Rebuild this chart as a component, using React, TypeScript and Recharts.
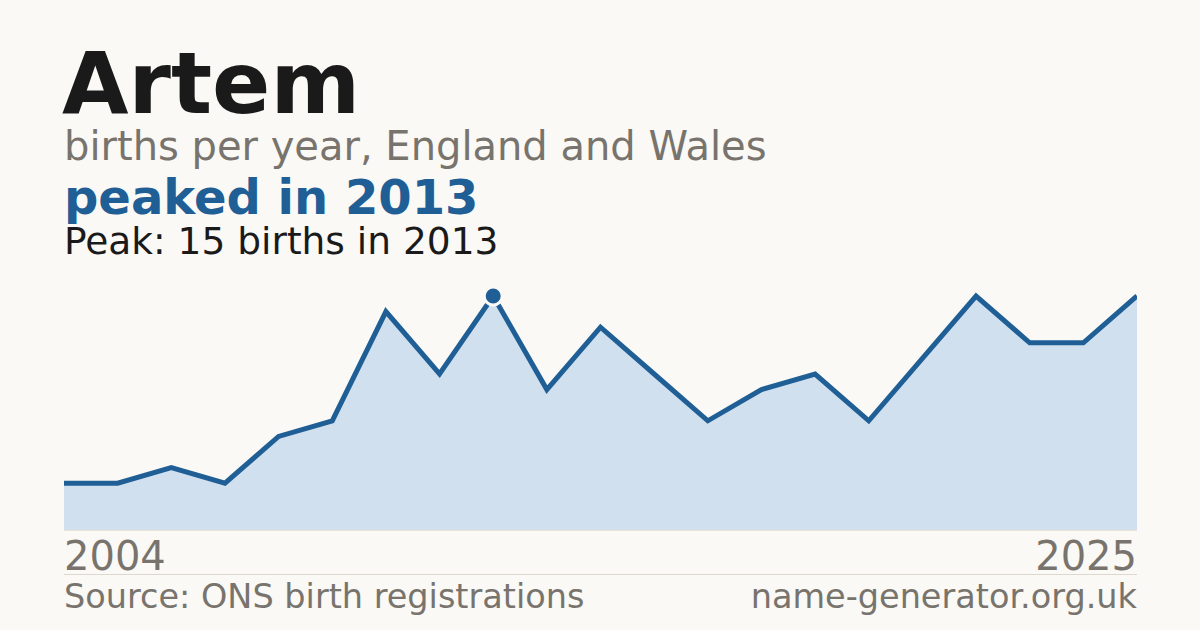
import React from 'react';
import { AreaChart, Area, XAxis, YAxis } from 'recharts';

const years = [
  2005, 2006, 2007, 2008, 2009, 2010, 2011, 2012, 2013, 2014, 2015,
  2016, 2017, 2018, 2019, 2020, 2021, 2022, 2023, 2024, 2025,
];
const births = [3, 3, 4, 3, 6, 7, 14, 10, 15, 9, 13, 10, 7, 9, 10, 7, 11, 15, 12, 12, 15];
const axisLabels = ['2004', '2025'];

const data = years.map((year, i) => ({ year, births: births[i] }));
const peakIndex = births.indexOf(Math.max(...births));

const BG = '#faf9f5';
const BLUE = '#1f5f96';
const GREY = '#78746d';
const FONT = '"DejaVu Sans", sans-serif';

const PeakDot = (props: any) => {
  const { cx, cy, index } = props;
  if (index !== peakIndex) return <g key={`d${index}`} />;
  return <circle key={`d${index}`} cx={cx} cy={cy} r={9} fill={BLUE} stroke={BG} strokeWidth={3} />;
};

const App: React.FC = () => {
  return (
    <div
      style={{
        position: 'fixed', left: 0, top: 0, width: 1200, height: 630,
        background: BG, fontFamily: FONT, overflow: 'hidden',
      }}
    >
      <div style={{ position: 'absolute', left: 62, top: 40, fontSize: 86, fontWeight: 700, color: '#1a1a1a', lineHeight: '86px' }}>
        Artem
      </div>
      <div style={{ position: 'absolute', left: 64, top: 126, fontSize: 40, color: GREY, lineHeight: '40px' }}>
        births per year, England and Wales
      </div>
      <div style={{ position: 'absolute', left: 64, top: 173, fontSize: 48, fontWeight: 700, color: BLUE, lineHeight: '48px' }}>
        peaked in 2013
      </div>
      <div style={{ position: 'absolute', left: 64, top: 222, fontSize: 37.5, color: '#1a1a1a', lineHeight: '38px' }}>
        Peak: 15 births in 2013
      </div>

      <div style={{ position: 'absolute', left: 64, top: 286 }}>
        <AreaChart width={1073} height={244} data={data} margin={{ top: 10, right: 0, bottom: 0, left: 0 }}>
          <XAxis dataKey="year" hide />
          <YAxis hide domain={[0, 15]} />
          <Area
            type="linear"
            dataKey="births"
            stroke={BLUE}
            strokeWidth={5}
            fill="#d0e0ef"
            fillOpacity={1}
            dot={PeakDot}
            activeDot={false}
            isAnimationActive={false}
          />
        </AreaChart>
      </div>
      <div style={{ position: 'absolute', left: 64, top: 530, width: 1073, height: 1, background: '#ebe3d6' }} />

      <div style={{ position: 'absolute', left: 64, top: 536, fontSize: 40, color: GREY, lineHeight: '40px' }}>
        {axisLabels[0]}
      </div>
      <div style={{ position: 'absolute', right: 63, top: 536, fontSize: 40, color: GREY, lineHeight: '40px', textAlign: 'right' }}>
        {axisLabels[1]}
      </div>
      <div style={{ position: 'absolute', left: 64, top: 574, width: 1073, height: 1, background: '#ddd8cf' }} />
      <div style={{ position: 'absolute', left: 64, top: 580, fontSize: 33.5, color: GREY, lineHeight: '34px' }}>
        Source: ONS birth registrations
      </div>
      <div style={{ position: 'absolute', right: 63, top: 580, fontSize: 33.5, color: GREY, lineHeight: '34px', textAlign: 'right' }}>
        name-generator.org.uk
      </div>
    </div>
  );
};

export default App;
